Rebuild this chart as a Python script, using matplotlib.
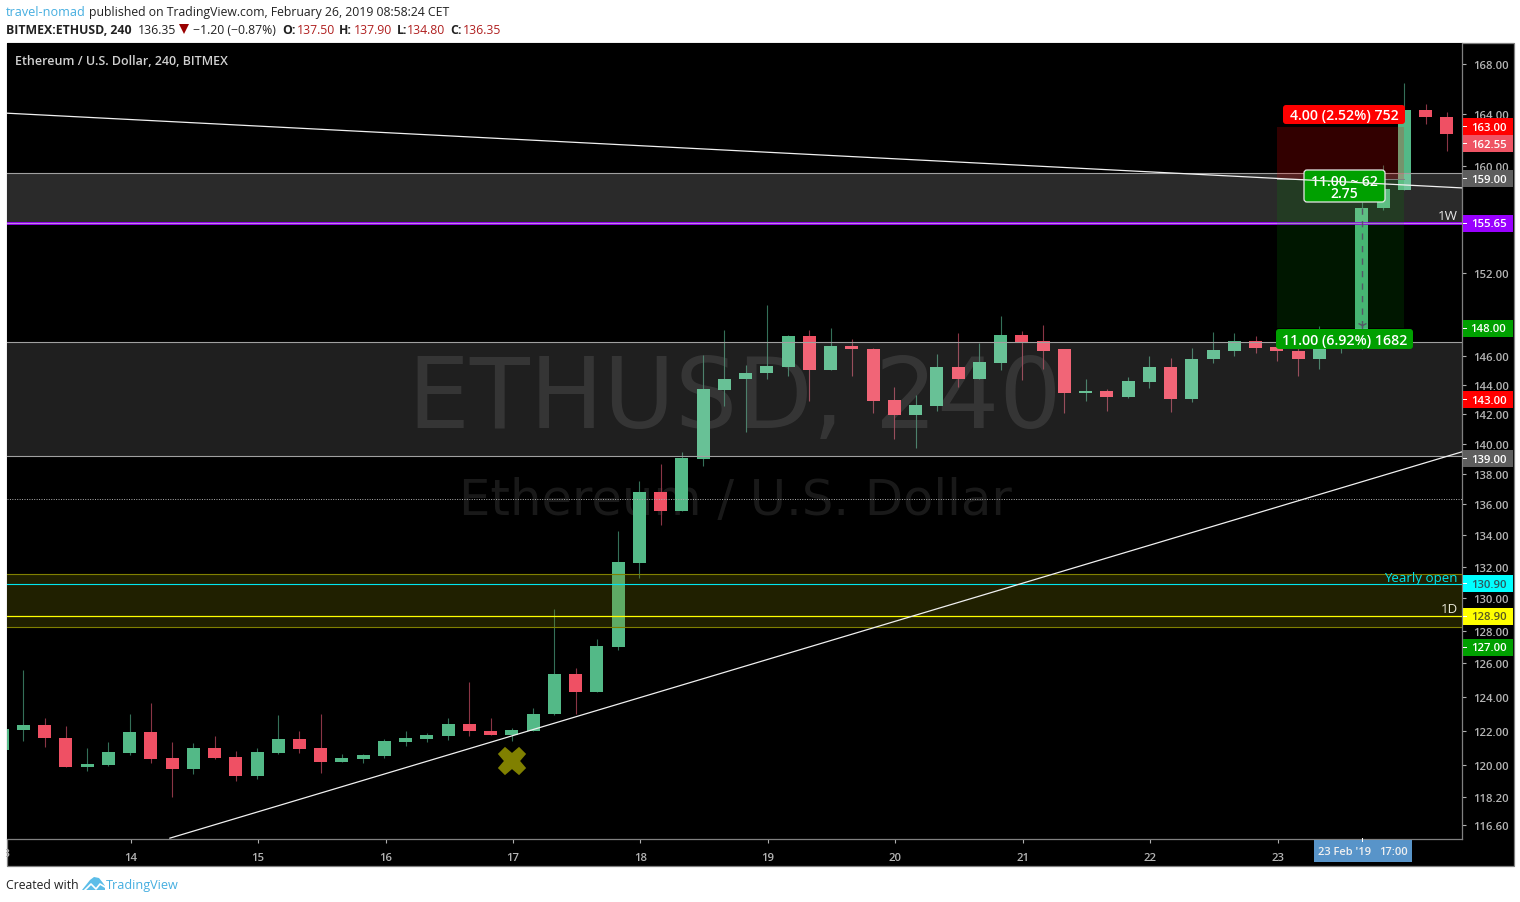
import matplotlib
matplotlib.use("Agg")
from matplotlib import pyplot as plt
from matplotlib.patches import Rectangle, FancyBboxPatch, Polygon
from matplotlib.transforms import IdentityTransform, Bbox
from matplotlib.ticker import FixedLocator, FixedFormatter, NullLocator
import numpy as np

W, H = 1520, 903
FONT = "Open Sans"

# 4h candles, first one is cut by the left edge
opens = [120.9, 122.07, 122.36, 121.6, 119.88, 120.0, 120.7, 121.9, 120.4, 119.77,
         120.98, 120.46, 119.37, 120.7, 121.5, 120.98, 120.17, 120.35, 120.52, 121.33,
         121.5, 121.67, 122.42, 122.0, 121.73, 122.0, 122.98, 125.35, 124.3, 127.0,
         132.25, 136.8, 135.55, 139.0, 143.7, 144.4, 144.82, 145.25, 147.43, 145.05,
         146.75, 146.55, 143.0, 141.93, 142.6, 145.25, 144.4, 145.55, 147.5, 147.1,
         146.5, 143.45, 143.6, 143.18, 144.2, 145.25, 143.07, 145.8, 146.35, 147.1,
         146.7, 146.4, 145.85, 146.5, 146.7, 156.75, 158.17, 164.3, 163.8]
highs = [122.2, 125.6, 122.77, 122.3, 120.98, 121.33, 123.0, 123.65, 121.33, 121.27,
         121.67, 120.8, 120.98, 122.94, 122.0, 123.0, 120.63, 120.63, 121.5, 122.0,
         121.85, 122.77, 124.9, 122.77, 122.13, 123.35, 129.35, 125.7, 127.5, 134.25,
         137.5, 138.65, 139.45, 146.07, 147.87, 145.37, 149.67, 147.5, 147.87, 148.0,
         147.2, 146.62, 143.9, 143.3, 146.2, 147.65, 146.97, 148.85, 147.8, 148.2,
         146.5, 144.4, 143.75, 144.55, 146.05, 145.9, 146.62, 147.72, 147.65, 147.43,
         146.9, 146.9, 148.15, 146.8, 157.2, 160.07, 166.5, 164.8, 164.15]
lows = [120.8, 121.4, 121.04, 119.88, 119.65, 119.95, 120.58, 120.1, 118.2, 119.5,
        120.35, 119.08, 119.2, 120.63, 120.7, 119.54, 120.17, 120.12, 120.4, 121.1,
        121.33, 121.44, 121.67, 121.73, 121.38, 122.0, 122.95, 123.0, 124.3, 126.8,
        131.3, 134.65, 135.55, 138.5, 142.55, 140.8, 144.4, 144.65, 142.9, 145.05,
        144.65, 142.07, 140.33, 139.73, 142.2, 143.9, 144.4, 145.05, 144.35, 145.1,
        142.07, 142.93, 142.2, 143.1, 143.8, 142.13, 142.87, 145.55, 146.05, 146.27,
        145.7, 144.65, 145.1, 146.27, 146.5, 156.6, 158.17, 163.2, 161.1]
closes = [122.1, 122.36, 121.55, 119.88, 120.05, 120.75, 121.9, 120.35, 119.77, 120.98,
          120.4, 119.37, 120.75, 121.5, 120.92, 120.17, 120.4, 120.58, 121.38, 121.55,
          121.73, 122.42, 121.96, 121.73, 122.07, 123.0, 125.35, 124.3, 127.06, 132.3,
          136.8, 135.55, 139.05, 143.76, 144.45, 144.88, 145.3, 147.43, 145.05, 146.75,
          146.5, 142.93, 141.93, 142.67, 145.25, 144.4, 145.6, 147.5, 147.03, 146.4,
          143.45, 143.6, 143.18, 144.3, 145.25, 143.07, 145.85, 146.42, 147.1, 146.62,
          146.35, 145.85, 146.5, 146.7, 156.8, 158.2, 164.3, 163.75, 162.47]

price_ticks = [168, 164, 160, 152, 146, 144, 142, 140, 138, 136, 134, 132, 130,
               128, 126, 124, 122, 120, 118.2, 116.6]
day_pos = [6, 12, 18, 24, 30, 36, 42, 48, 54, 60, 66]
# the 24th has a tick but its label sits under the date box
day_labels = ["14", "15", "16", "17", "18", "19", "20", "21", "22", "23", ""]

tag_prices = [163.0, 162.55, 159.0, 155.65, 148.0, 143.0, 139.0, 130.9, 128.9, 127.0]
tag_bg = ["#ff0000", "#ef5464", "#5e5e5e", "#9900ff", "#00a000", "#ff0000", "#5e5e5e",
          "#00ffff", "#ffff00", "#00a000"]
tag_fg = ["white", "white", "white", "white", "white", "white", "white",
          "#2a5a60", "#5a5a20", "white"]

upper_zone = [155.65, 159.45]
lower_zone = [139.2, 147.05]
yellow_zone = [128.2, 131.5]
last_price = 136.35

falling_x = [0.233, 68.716]
falling_y = [164.08, 158.3]
rising_x = [7.9, 68.716]
rising_y = [115.87, 139.47]

pos_x = [60.02, 66.0]
pos_entry, pos_stop, pos_target = 159.0, 163.0, 148.0
arrow_bar = 64

plt.rcParams["font.family"] = [FONT, "DejaVu Sans"]

fig = plt.figure(figsize=(W / 100, H / 100), dpi=100, facecolor="white")
px = IdentityTransform()


def ftext(x, y, s, **kw):
	kw.setdefault("va", "center")
	kw.setdefault("ha", "left")
	kw.setdefault("color", "#222222")
	kw.setdefault("fontsize", 8.8)
	return fig.text(x, H - y, s, transform=px, **kw)


# outer black panel
fig.add_artist(Rectangle((6.5, H - 866.5), 1507, 823, transform=px, facecolor="black",
                         edgecolor="#808080", linewidth=0.9, zorder=-5))

ax = fig.add_axes([7 / W, (H - 839.5) / H, 1455 / W, 795.5 / H], facecolor="black")
ax.set_yscale("log")
ax.set_xlim(0.233, 68.716)
ax.set_ylim(115.85, 169.70)
ax.yaxis.tick_right()
ax.yaxis.set_major_locator(FixedLocator(price_ticks))
ax.yaxis.set_major_formatter(FixedFormatter(["%.2f" % p for p in price_ticks]))
ax.yaxis.set_minor_locator(NullLocator())
ax.set_xticks([p + 0.05 for p in day_pos])
ax.set_xticklabels(day_labels)
ax.tick_params(axis="both", length=3, width=0.8, color="#b0b0b0", labelcolor="#b4b4b4",
               labelsize=8.2, pad=5)
ax.tick_params(axis="x", pad=7)
for lab in ax.get_xticklabels() + ax.get_yticklabels():
	lab.set_fontweight("semibold")
for name in ["top", "left"]:
	ax.spines[name].set_visible(False)
for name in ["right", "bottom"]:
	ax.spines[name].set_color("#808080")
	ax.spines[name].set_linewidth(0.9)

# the label of the 13th, only its edge is left
t13 = ax.text(0.05, -0.0185, "13", transform=ax.get_xaxis_transform(), ha="center",
              va="center", color="#b4b4b4", fontsize=8.2, fontweight="semibold")
t13.set_clip_box(Bbox([[6, 0], [1462, H]]))
t13.set_clip_on(True)

# watermark
ax.text(735, H - 401, "ETHUSD, 240", transform=px, ha="center", va="center",
        fontsize=70.5, family="DejaVu Sans", color="#ffffff", alpha=0.1, zorder=1)
ax.text(735, H - 501, "Ethereum / U.S. Dollar", transform=px, ha="center", va="center",
        fontsize=35.7, family="DejaVu Sans", color="#ffffff", alpha=0.1, zorder=1)

# candles
idx = np.arange(len(opens))
o = np.array(opens)
c = np.array(closes)
up = c >= o
body = np.maximum(o, c) - np.minimum(o, c)
wick_col = np.where(up, "#346f58", "#8a3545")
body_col = np.where(up, "#53b987", "#ef5064")
ax.vlines(idx, lows, highs, colors=wick_col, linewidth=0.8, zorder=2)
ax.bar(idx, body, bottom=np.minimum(o, c), width=13 / 21.246, color=body_col, linewidth=0, zorder=2.5)

# zones go over the candles, they are translucent
ax.axhspan(upper_zone[0], upper_zone[1], color="#ffffff", alpha=0.17, linewidth=0, zorder=3)
ax.axhspan(lower_zone[0], lower_zone[1], color="#ffffff", alpha=0.125, linewidth=0, zorder=3)
ax.axhspan(yellow_zone[0], yellow_zone[1], color="#808000", alpha=0.25, linewidth=0, zorder=3)
for p in [upper_zone[1], lower_zone[0], lower_zone[1]]:
	ax.axhline(p, color="#a0a0a0", linewidth=0.8, zorder=3.2)
for p in yellow_zone:
	ax.axhline(p, color="#808000", linewidth=0.8, zorder=3.2)
ax.axhline(last_price, color="#b0b0b0", linewidth=0.7, linestyle=(0, (1, 1.5)), zorder=3.2)
ax.axhline(130.9, color="#00e5ee", linewidth=0.8, zorder=3.3)
ax.axhline(128.9, color="#ffff00", linewidth=0.9, zorder=3.3)
ax.axhline(155.65, color="#a000ff", linewidth=2.0, zorder=3.3)
ax.axhline(155.65, color="#c0a0d8", linewidth=0.6, zorder=3.4)

# long position tool
ax.fill_between(pos_x, pos_entry, pos_stop, color="#ff0000", alpha=0.2, linewidth=0, zorder=3.5)
ax.fill_between(pos_x, pos_target, pos_entry, color="#00a000", alpha=0.15, linewidth=0, zorder=3.5)
ax.plot(pos_x, [pos_entry, pos_entry], color="#808080", linewidth=0.7, zorder=3.6)
ax.plot([arrow_bar, arrow_bar], [closes[arrow_bar], pos_target], color="#555566", linewidth=1,
        linestyle=(0, (4.5, 4.5)), zorder=3.7)
ax.plot([arrow_bar], [pos_target + 0.25], marker="1", markersize=7, color="#555566", zorder=3.7)


def label_box(x0, y0, x1, y1, face, edge="none"):
	ax.add_patch(FancyBboxPatch((x0 + 2, H - y1 + 2), x1 - x0 - 4, y1 - y0 - 4,
	                            boxstyle="round,pad=2,rounding_size=3", transform=px,
	                            facecolor=face, edgecolor=edge, linewidth=0.9, zorder=5, clip_on=False))


label_box(1283, 106, 1405, 125, "#ff0000")
ax.text(1344.5, H - 116.5, "4.00 (2.52%) 752", transform=px, color="white", ha="center",
        va="center", fontsize=10.2, fontweight="semibold", zorder=5.5)
label_box(1276, 330, 1413, 350, "#00a000")
ax.text(1344.5, H - 341, "11.00 (6.92%) 1682", transform=px, color="white", ha="center",
        va="center", fontsize=10.2, fontweight="semibold", zorder=5.5)
label_box(1304, 171, 1385, 203, "#00a000", "#e8e8e8")
ax.text(1344.5, H - 182, "11.00 ~ 62", transform=px, color="white", ha="center",
        va="center", fontsize=10, fontweight="semibold", zorder=5.5)
ax.text(1344.5, H - 194, "2.75", transform=px, color="white", ha="center",
        va="center", fontsize=10, fontweight="semibold", zorder=5.5)

# trend lines run over the labels
ax.plot(falling_x, falling_y, color="#f0f0f0", linewidth=0.9, zorder=6)
ax.plot(rising_x, rising_y, color="#f0f0f0", linewidth=0.9, zorder=6)

# the cross at the 17th
ax.plot([24], [120.25], marker="X", markersize=19, color="#808000", markeredgecolor="#808000",
        markeredgewidth=1.2, linestyle="none", zorder=6)

ax.text(15, H - 61.5, "Ethereum / U.S. Dollar, 240, BITMEX", transform=px, color="#d0d0d0",
        fontsize=9, fontweight="semibold", va="center", zorder=7)
ax.text(1458, H - 216.5, "1W", transform=px, color="#e8e8e8", fontsize=9.6, ha="right", va="center", zorder=7)
ax.text(1458, H - 609.5, "1D", transform=px, color="#e8e8d8", fontsize=9.6, ha="right", va="center", zorder=7)
ax.text(1458, H - 578.5, "Yearly open", transform=px, color="#00e5ee", fontsize=9.6, ha="right",
        va="center", fontweight="medium", zorder=7)

fig.canvas.draw()

# price tags on the right axis, the 162.55 one is pushed down off the 163.00 one
for p, bg, fg in zip(tag_prices, tag_bg, tag_fg):
	yc = ax.transData.transform((1, p))[1]
	if p == 162.55:
		yc -= 11
	fig.add_artist(Rectangle((1462.5, yc - 8.5), 50.5, 17, transform=px, facecolor=bg,
	                         edgecolor="none", zorder=3))
	fig.add_artist(Rectangle((1463, yc - 0.5), 4, 1, transform=px, facecolor="white",
	                         edgecolor="none", zorder=3.1))
	ftext(1488.5, H - yc + 0.7, "%.2f" % p, color=fg, ha="center", fontsize=8.2, fontweight="semibold", zorder=3.2)

# crosshair date on the time axis
fig.add_artist(Rectangle((1314, H - 863), 98, 22, transform=px, facecolor="#5894c9",
                         edgecolor="none", zorder=3))
fig.add_artist(Rectangle((1361.5, H - 843), 1, 4, transform=px, facecolor="white",
                         edgecolor="none", zorder=3.1))
ftext(1344, 852.5, "23 Feb '19", color="#f0f0f0", ha="center", fontsize=8, fontweight="semibold", zorder=3.2)
ftext(1393, 852.5, "17:00", color="#f0f0f0", ha="center", fontsize=8, fontweight="semibold", zorder=3.2)

# header
ftext(6, 13, "travel-nomad", color="#45aee0", fontsize=9.1)
ftext(89, 13, "published on TradingView.com, February 26, 2019 08:58:24 CET")
ftext(6, 30.5, "BITMEX:ETHUSD, 240", fontweight="bold")
ftext(138, 30.5, "136.35")
fig.add_artist(Polygon([(179, H - 25), (189, H - 25), (184, H - 35)], closed=True, transform=px,
                       facecolor="#990000", edgecolor="none"))
ftext(193, 30.5, "\u22121.20 (\u22120.87%)")
red = "#b02020"
ftext(282, 30.5, "O:", fontweight="bold")
ftext(296.5, 30.5, "137.50", color=red)
ftext(339, 30.5, "H:", fontweight="bold")
ftext(353.5, 30.5, "137.90", color=red)
ftext(396.5, 30.5, "L:", fontweight="bold")
ftext(407, 30.5, "134.80", color=red)
ftext(450.5, 30.5, "C:", fontweight="bold")
ftext(463, 30.5, "136.35", color=red)

# footer with the logo
ftext(6, 886, "Created with")
fig.add_artist(Polygon([(82, H - 891), (90, H - 881), (94, H - 878), (99, H - 879), (103, H - 884),
                        (105, H - 887), (105, H - 891)], closed=True, transform=px,
                       facecolor="#5cbde8", edgecolor="none"))
fig.add_artist(plt.Line2D([84, 91, 96, 100, 105], [H - 892, H - 885, H - 890, H - 885, H - 888],
                          transform=px, color="white", linewidth=1.2))
ftext(106, 886, "TradingView", color="#45aee0", fontsize=9.05)

fig.savefig("out.png", dpi=100, facecolor="white")
